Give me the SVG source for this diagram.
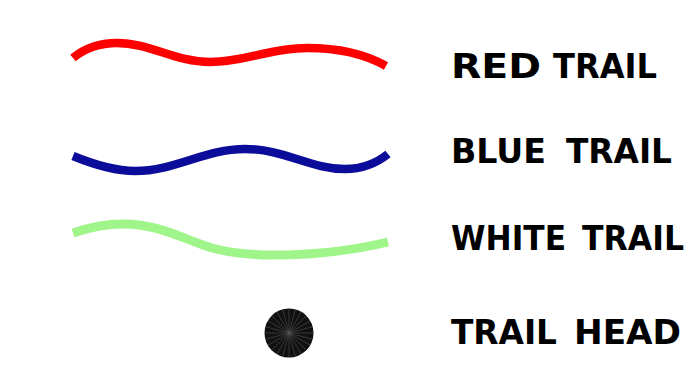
<svg xmlns="http://www.w3.org/2000/svg" width="692" height="370" viewBox="0 0 692 370">
<style>
.trail{fill:none;stroke-linecap:butt;stroke-linejoin:round}
.lbl{font-family:"DejaVu Sans","Liberation Sans",Arial,sans-serif;font-weight:bold;font-size:34px;fill:#000}
.spoke{stroke:#8a8a8a;stroke-width:0.6;opacity:0.55}
</style>
<rect width="692" height="370" fill="#fff"/>
<g id="red-trail">
<path class="trail" d="M73,58 C85,48 100,43 117,43 C150,43 175,62 210,62 C245,62 270,48 307,48 C340,48 365,54 386,66" stroke="#ff0000" stroke-width="8.5"/>
<text class="lbl" y="77.5"><tspan x="451" textLength="90" lengthAdjust="spacingAndGlyphs">RED</tspan><tspan x="553" textLength="104" lengthAdjust="spacingAndGlyphs">TRAIL</tspan></text>
</g>
<g id="blue-trail">
<path class="trail" d="M73,156 C95,165 115,171 135,171 C175,171 205,149 245,149 C285,149 310,169 345,169 C365,169 378,162 388,154" stroke="#0c0c9a" stroke-width="8.5"/>
<text class="lbl" y="162.5"><tspan x="451" textLength="95" lengthAdjust="spacingAndGlyphs">BLUE</tspan><tspan x="566" textLength="106" lengthAdjust="spacingAndGlyphs">TRAIL</tspan></text>
</g>
<g id="white-trail">
<path class="trail" d="M73,233 C90,227 105,224 123,224 C160,224 185,240 212,248 C235,254 252,255 272,255 C320,255 355,250 388,242" stroke="#a0f58a" stroke-width="9"/>
<text class="lbl" y="249.5"><tspan x="451" textLength="115" lengthAdjust="spacingAndGlyphs">WHITE</tspan><tspan x="582" textLength="102" lengthAdjust="spacingAndGlyphs">TRAIL</tspan></text>
</g>
<g id="trail-head">
<circle cx="289" cy="333" r="24.5" fill="#111"/>
<g class="spoke">
<line x1="289" y1="333" x2="313.5" y2="333"/>
<line x1="289" y1="333" x2="312.7" y2="339.3"/>
<line x1="289" y1="333" x2="310.2" y2="345.3"/>
<line x1="289" y1="333" x2="306.3" y2="350.3"/>
<line x1="289" y1="333" x2="301.3" y2="354.2"/>
<line x1="289" y1="333" x2="295.3" y2="356.7"/>
<line x1="289" y1="333" x2="289" y2="357.5"/>
<line x1="289" y1="333" x2="282.7" y2="356.7"/>
<line x1="289" y1="333" x2="276.8" y2="354.2"/>
<line x1="289" y1="333" x2="271.7" y2="350.3"/>
<line x1="289" y1="333" x2="267.8" y2="345.3"/>
<line x1="289" y1="333" x2="265.3" y2="339.3"/>
<line x1="289" y1="333" x2="264.5" y2="333"/>
<line x1="289" y1="333" x2="265.3" y2="326.7"/>
<line x1="289" y1="333" x2="267.8" y2="320.8"/>
<line x1="289" y1="333" x2="271.7" y2="315.7"/>
<line x1="289" y1="333" x2="276.8" y2="311.8"/>
<line x1="289" y1="333" x2="282.7" y2="309.3"/>
<line x1="289" y1="333" x2="289" y2="308.5"/>
<line x1="289" y1="333" x2="295.3" y2="309.3"/>
<line x1="289" y1="333" x2="301.3" y2="311.8"/>
<line x1="289" y1="333" x2="306.3" y2="315.7"/>
<line x1="289" y1="333" x2="310.2" y2="320.8"/>
<line x1="289" y1="333" x2="312.7" y2="326.7"/>
</g>
<text class="lbl" y="343.5"><tspan x="451" textLength="106" lengthAdjust="spacingAndGlyphs">TRAIL</tspan><tspan x="574" textLength="107" lengthAdjust="spacingAndGlyphs">HEAD</tspan></text>
</g>
</svg>
